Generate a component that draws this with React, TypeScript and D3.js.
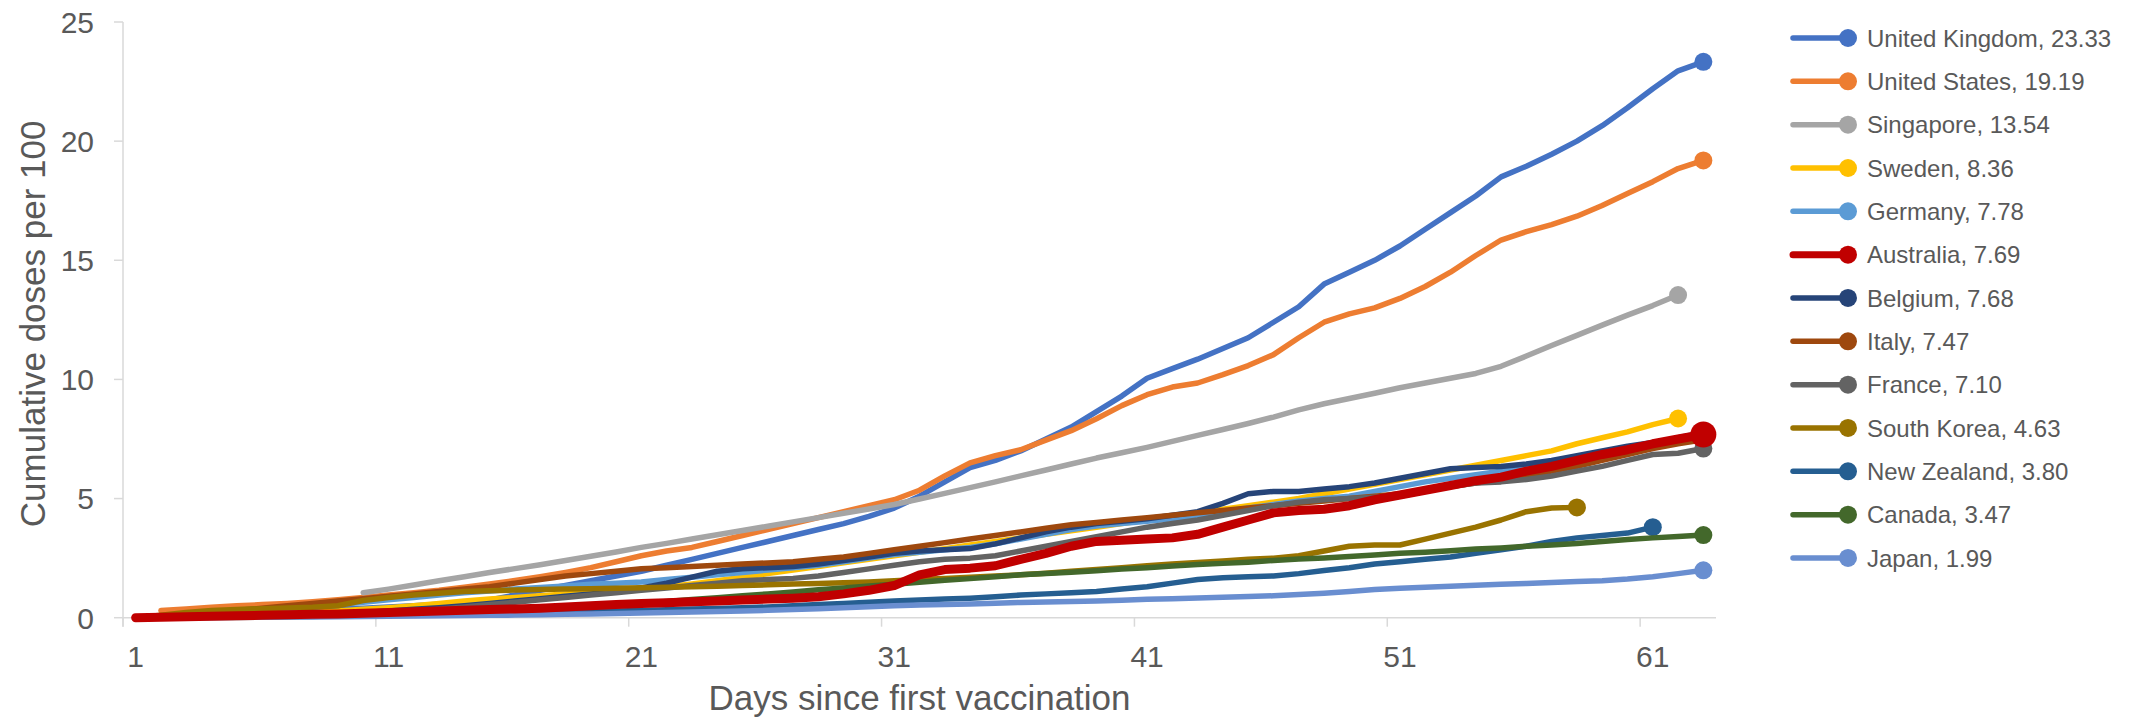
import React from "react";
import * as d3 from "d3";

const W = 2131;
const H = 717;

const countries = [
  "United Kingdom", "United States", "Singapore", "Sweden", "Germany", "Australia",
  "Belgium", "Italy", "France", "South Korea", "New Zealand", "Canada", "Japan",
];
const finalValues = [23.33, 19.19, 13.54, 8.36, 7.78, 7.69, 7.68, 7.47, 7.1, 4.63, 3.8, 3.47, 1.99];
const colors = [
  "#4472C4", "#ED7D31", "#A5A5A5", "#FFC000", "#5B9BD5", "#C00000",
  "#264478", "#9E480E", "#636363", "#997300", "#255E91", "#43682B", "#698ED0",
];

const days = d3.range(1, 64);
const xTicks = [1, 11, 21, 31, 41, 51, 61];
const yTicks = [0, 5, 10, 15, 20, 25];

const N = null;
const uk = [0, 0.05, 0.1, 0.15, 0.2, 0.24, 0.28, 0.32, 0.36, 0.4, 0.45, 0.5, 0.56, 0.63, 0.75, 0.95, 1.15, 1.35, 1.55, 1.75, 1.95, 2.2, 2.45, 2.7, 2.95, 3.2, 3.45, 3.7, 3.95, 4.25, 4.6, 5.1, 5.7, 6.3, 6.6, 7.0, 7.5, 8.0, 8.65, 9.3, 10.05, 10.45, 10.85, 11.3, 11.75, 12.4, 13.05, 14.0, 14.5, 15.0, 15.6, 16.3, 17.0, 17.7, 18.5, 18.95, 19.45, 20.0, 20.65, 21.4, 22.2, 22.95, 23.33];
const us = [N, 0.3, 0.37, 0.44, 0.5, 0.55, 0.6, 0.67, 0.75, 0.85, 0.95, 1.05, 1.15, 1.28, 1.42, 1.56, 1.72, 1.9, 2.1, 2.35, 2.6, 2.8, 2.95, 3.2, 3.45, 3.7, 3.95, 4.2, 4.45, 4.7, 4.95, 5.35, 5.95, 6.5, 6.8, 7.05, 7.45, 7.85, 8.35, 8.9, 9.36, 9.68, 9.85, 10.2, 10.58, 11.04, 11.75, 12.4, 12.75, 13.0, 13.4, 13.9, 14.5, 15.2, 15.85, 16.2, 16.5, 16.85, 17.3, 17.8, 18.3, 18.85, 19.19];
const singapore = [N, N, N, N, N, N, N, N, N, 1.05, 1.2, 1.37, 1.55, 1.72, 1.9, 2.06, 2.22, 2.4, 2.58, 2.76, 2.95, 3.12, 3.3, 3.48, 3.66, 3.84, 4.02, 4.2, 4.38, 4.56, 4.75, 4.98, 5.22, 5.46, 5.7, 5.95, 6.2, 6.45, 6.7, 6.92, 7.15, 7.4, 7.65, 7.9, 8.15, 8.42, 8.72, 8.98, 9.2, 9.42, 9.65, 9.85, 10.05, 10.25, 10.55, 10.98, 11.42, 11.85, 12.28, 12.7, 13.1, 13.54, N];
const sweden = [0, 0.01, 0.02, 0.05, 0.08, 0.12, 0.17, 0.22, 0.28, 0.35, 0.42, 0.5, 0.6, 0.7, 0.78, 0.85, 0.92, 1.0, 1.07, 1.13, 1.2, 1.3, 1.42, 1.55, 1.7, 1.85, 2.0, 2.15, 2.3, 2.45, 2.6, 2.75, 2.9, 3.05, 3.2, 3.35, 3.5, 3.65, 3.8, 3.95, 4.1, 4.25, 4.4, 4.55, 4.7, 4.85, 5.0, 5.2, 5.4, 5.6, 5.8, 6.0, 6.2, 6.4, 6.6, 6.8, 7.0, 7.3, 7.55, 7.8, 8.1, 8.36, N];
const germany = [0, 0.03, 0.08, 0.15, 0.22, 0.3, 0.38, 0.45, 0.55, 0.65, 0.75, 0.85, 0.95, 1.05, 1.12, 1.2, 1.27, 1.33, 1.4, 1.45, 1.5, 1.6, 1.7, 1.8, 1.9, 2.0, 2.1, 2.2, 2.35, 2.5, 2.65, 2.75, 2.85, 2.95, 3.1, 3.3, 3.5, 3.7, 3.85, 3.95, 4.05, 4.15, 4.3, 4.45, 4.6, 4.75, 4.9, 5.0, 5.1, 5.3, 5.5, 5.7, 5.85, 6.0, 6.15, 6.3, 6.5, 6.7, 6.9, 7.1, 7.3, 7.55, 7.78];
const australia = [0, 0.02, 0.04, 0.06, 0.08, 0.1, 0.12, 0.14, 0.16, 0.19, 0.22, 0.25, 0.28, 0.31, 0.34, 0.37, 0.4, 0.45, 0.5, 0.55, 0.6, 0.63, 0.67, 0.7, 0.74, 0.78, 0.82, 0.88, 1.0, 1.15, 1.35, 1.8, 2.02, 2.08, 2.18, 2.45, 2.7, 3.0, 3.2, 3.25, 3.3, 3.35, 3.5, 3.8, 4.1, 4.4, 4.5, 4.55, 4.7, 4.95, 5.15, 5.35, 5.55, 5.75, 5.9, 6.15, 6.35, 6.6, 6.85, 7.05, 7.3, 7.5, 7.69];
const belgium = [0, 0, 0.01, 0.02, 0.03, 0.05, 0.08, 0.12, 0.17, 0.22, 0.28, 0.35, 0.42, 0.5, 0.6, 0.7, 0.8, 0.9, 1.0, 1.1, 1.25, 1.45, 1.7, 1.95, 2.05, 2.1, 2.15, 2.25, 2.4, 2.55, 2.7, 2.8, 2.85, 2.9, 3.1, 3.35, 3.6, 3.8, 3.95, 4.05, 4.15, 4.3, 4.45, 4.8, 5.2, 5.3, 5.3, 5.4, 5.5, 5.65, 5.85, 6.05, 6.25, 6.3, 6.35, 6.45, 6.6, 6.8, 7.0, 7.2, 7.35, 7.5, 7.68];
const italy = [0, 0.05, 0.12, 0.2, 0.3, 0.4, 0.5, 0.6, 0.7, 0.8, 0.9, 1.0, 1.1, 1.2, 1.3, 1.45, 1.6, 1.75, 1.85, 1.95, 2.05, 2.1, 2.15, 2.2, 2.25, 2.3, 2.35, 2.45, 2.55, 2.7, 2.85, 3.0, 3.15, 3.3, 3.45, 3.6, 3.75, 3.9, 4.0, 4.1, 4.2, 4.3, 4.4, 4.5, 4.6, 4.7, 4.8, 4.9, 5.0, 5.1, 5.2, 5.35, 5.5, 5.65, 5.8, 5.95, 6.15, 6.35, 6.6, 6.85, 7.1, 7.3, 7.47];
const france = [0, 0, 0, 0.01, 0.01, 0.02, 0.03, 0.05, 0.08, 0.12, 0.18, 0.25, 0.35, 0.45, 0.55, 0.65, 0.75, 0.85, 0.95, 1.05, 1.15, 1.25, 1.35, 1.45, 1.55, 1.6, 1.65, 1.75, 1.9, 2.05, 2.2, 2.35, 2.45, 2.5, 2.6, 2.8, 3.0, 3.2, 3.4, 3.6, 3.8, 3.95, 4.1, 4.3, 4.5, 4.7, 4.85, 4.95, 5.0, 5.05, 5.1, 5.3, 5.5, 5.65, 5.7, 5.8, 5.95, 6.15, 6.35, 6.6, 6.85, 6.9, 7.1];
const southKorea = [0, 0.1, 0.22, 0.3, 0.34, 0.38, 0.41, 0.44, 0.5, 0.72, 0.85, 0.95, 1.03, 1.1, 1.13, 1.16, 1.18, 1.2, 1.22, 1.24, 1.26, 1.28, 1.3, 1.32, 1.35, 1.38, 1.41, 1.44, 1.47, 1.5, 1.55, 1.6, 1.65, 1.7, 1.75, 1.8, 1.87, 1.95, 2.02, 2.1, 2.18, 2.25, 2.32, 2.38, 2.45, 2.5, 2.6, 2.8, 3.0, 3.05, 3.05, 3.3, 3.55, 3.8, 4.1, 4.45, 4.6, 4.63, N, N, N, N, N];
const newZealand = [0, 0.01, 0.02, 0.03, 0.04, 0.05, 0.06, 0.07, 0.08, 0.09, 0.1, 0.12, 0.14, 0.16, 0.18, 0.2, 0.22, 0.24, 0.26, 0.28, 0.3, 0.33, 0.36, 0.39, 0.42, 0.45, 0.5, 0.55, 0.6, 0.65, 0.7, 0.74, 0.78, 0.82, 0.88, 0.95, 1.0, 1.05, 1.1, 1.2, 1.3, 1.45, 1.6, 1.68, 1.72, 1.75, 1.85, 1.98, 2.1, 2.25, 2.35, 2.45, 2.55, 2.7, 2.85, 3.0, 3.2, 3.35, 3.45, 3.55, 3.8, N, N];
const canada = [0, 0.01, 0.02, 0.04, 0.06, 0.08, 0.1, 0.12, 0.14, 0.17, 0.2, 0.23, 0.26, 0.3, 0.34, 0.38, 0.42, 0.46, 0.5, 0.55, 0.6, 0.68, 0.76, 0.84, 0.92, 1.0, 1.08, 1.17, 1.25, 1.33, 1.4, 1.49, 1.57, 1.64, 1.72, 1.8, 1.86, 1.91, 1.97, 2.04, 2.1, 2.17, 2.23, 2.28, 2.33, 2.4, 2.46, 2.51, 2.57, 2.63, 2.7, 2.75, 2.81, 2.88, 2.93, 3.0, 3.05, 3.11, 3.2, 3.28, 3.35, 3.41, 3.47];
const japan = [0, 0, 0.01, 0.01, 0.02, 0.02, 0.03, 0.03, 0.04, 0.05, 0.06, 0.07, 0.08, 0.09, 0.1, 0.11, 0.12, 0.14, 0.16, 0.18, 0.2, 0.22, 0.24, 0.26, 0.28, 0.31, 0.34, 0.38, 0.42, 0.46, 0.5, 0.53, 0.55, 0.58, 0.61, 0.64, 0.66, 0.68, 0.7, 0.73, 0.77, 0.8, 0.83, 0.86, 0.89, 0.92, 0.97, 1.03, 1.1, 1.18, 1.24, 1.28, 1.32, 1.36, 1.4, 1.44, 1.48, 1.52, 1.55, 1.62, 1.72, 1.85, 1.99];

const seriesValues = [uk, us, singapore, sweden, germany, australia, belgium, italy, france, southKorea, newZealand, canada, japan];

const FONT = "'Liberation Sans', Arial, Helvetica, sans-serif";
const TEXT = "#595959";
const AXIS = "#D9D9D9";

export default function App() {
  const left = 123, right = 1716, top = 22, bottom = 617.7;
  const x = d3.scaleLinear().domain([0.5, 63.5]).range([left, right]);
  const y = d3.scaleLinear().domain([0, 25]).range([bottom, top]);

  const series = countries.map((name, i) => ({
    name,
    color: colors[i],
    final: finalValues[i],
    points: days.map((d, k) => ({ day: d, v: seriesValues[i][k] as number | null })),
    thick: name === "Australia",
  }));

  const line = d3
    .line<{ day: number; v: number | null }>()
    .defined((p) => p.v !== null && p.v !== undefined)
    .x((p) => x(p.day))
    .y((p) => y(p.v as number));

  const order = [...series.filter((s) => !s.thick), ...series.filter((s) => s.thick)];

  const boundaryTicks = [0.5, 10.5, 20.5, 30.5, 40.5, 50.5, 60.5];

  const legendY0 = 38;
  const legendStep = 43.33;

  return (
    <div style={{ position: "absolute", left: 0, top: 0 }}>
      <svg width={W} height={H} style={{ display: "block", background: "#fff" }} fontFamily={FONT}>
        {/* y axis */}
        <line x1={left} x2={left} y1={top} y2={bottom + 9} stroke={AXIS} strokeWidth={1.5} />
        {yTicks.map((t) => (
          <g key={"yt" + t}>
            <line x1={left - 9} x2={left} y1={y(t)} y2={y(t)} stroke={AXIS} strokeWidth={1.5} />
            <text x={94} y={y(t) + 10.8} textAnchor="end" fontSize={30} fill={TEXT}>
              {t}
            </text>
          </g>
        ))}
        {/* x axis */}
        <line x1={left} x2={right} y1={bottom} y2={bottom} stroke={AXIS} strokeWidth={1.5} />
        {boundaryTicks.map((t) => (
          <line key={"xb" + t} x1={x(t)} x2={x(t)} y1={bottom} y2={bottom + 9} stroke={AXIS} strokeWidth={1.5} />
        ))}
        {xTicks.map((t) => (
          <text key={"xt" + t} x={x(t)} y={666.7} textAnchor="middle" fontSize={30} fill={TEXT}>
            {t}
          </text>
        ))}
        <text x={(left + right) / 2} y={710} textAnchor="middle" fontSize={35} fill={TEXT}>
          Days since first vaccination
        </text>
        <text transform={`translate(45, ${(top + bottom) / 2 + 4}) rotate(-90)`} textAnchor="middle" fontSize={35} fill={TEXT}>
          Cumulative doses per 100
        </text>

        {/* series */}
        {order.map((s) => {
          const valid = s.points.filter((p) => p.v !== null && p.v !== undefined);
          const last = valid[valid.length - 1];
          return (
            <g key={s.name}>
              <path
                d={line(s.points) || ""}
                fill="none"
                stroke={s.color}
                strokeWidth={s.thick ? 9 : 5.5}
                strokeLinejoin="round"
                strokeLinecap="round"
              />
              <circle cx={x(last.day)} cy={y(last.v as number)} r={s.thick ? 13 : 9} fill={s.color} />
            </g>
          );
        })}

        {/* legend */}
        {series.map((s, i) => {
          const ly = legendY0 + legendStep * i;
          return (
            <g key={"lg" + s.name}>
              <line x1={1793} x2={1848} y1={ly} y2={ly} stroke={s.color} strokeWidth={s.thick ? 7 : 5.5} strokeLinecap="round" />
              <circle cx={1848} cy={ly} r={9} fill={s.color} />
              <text x={1867} y={ly + 8.6} fontSize={24} fill={TEXT}>
                {`${s.name}, ${s.final.toFixed(2)}`}
              </text>
            </g>
          );
        })}
      </svg>
    </div>
  );
}
